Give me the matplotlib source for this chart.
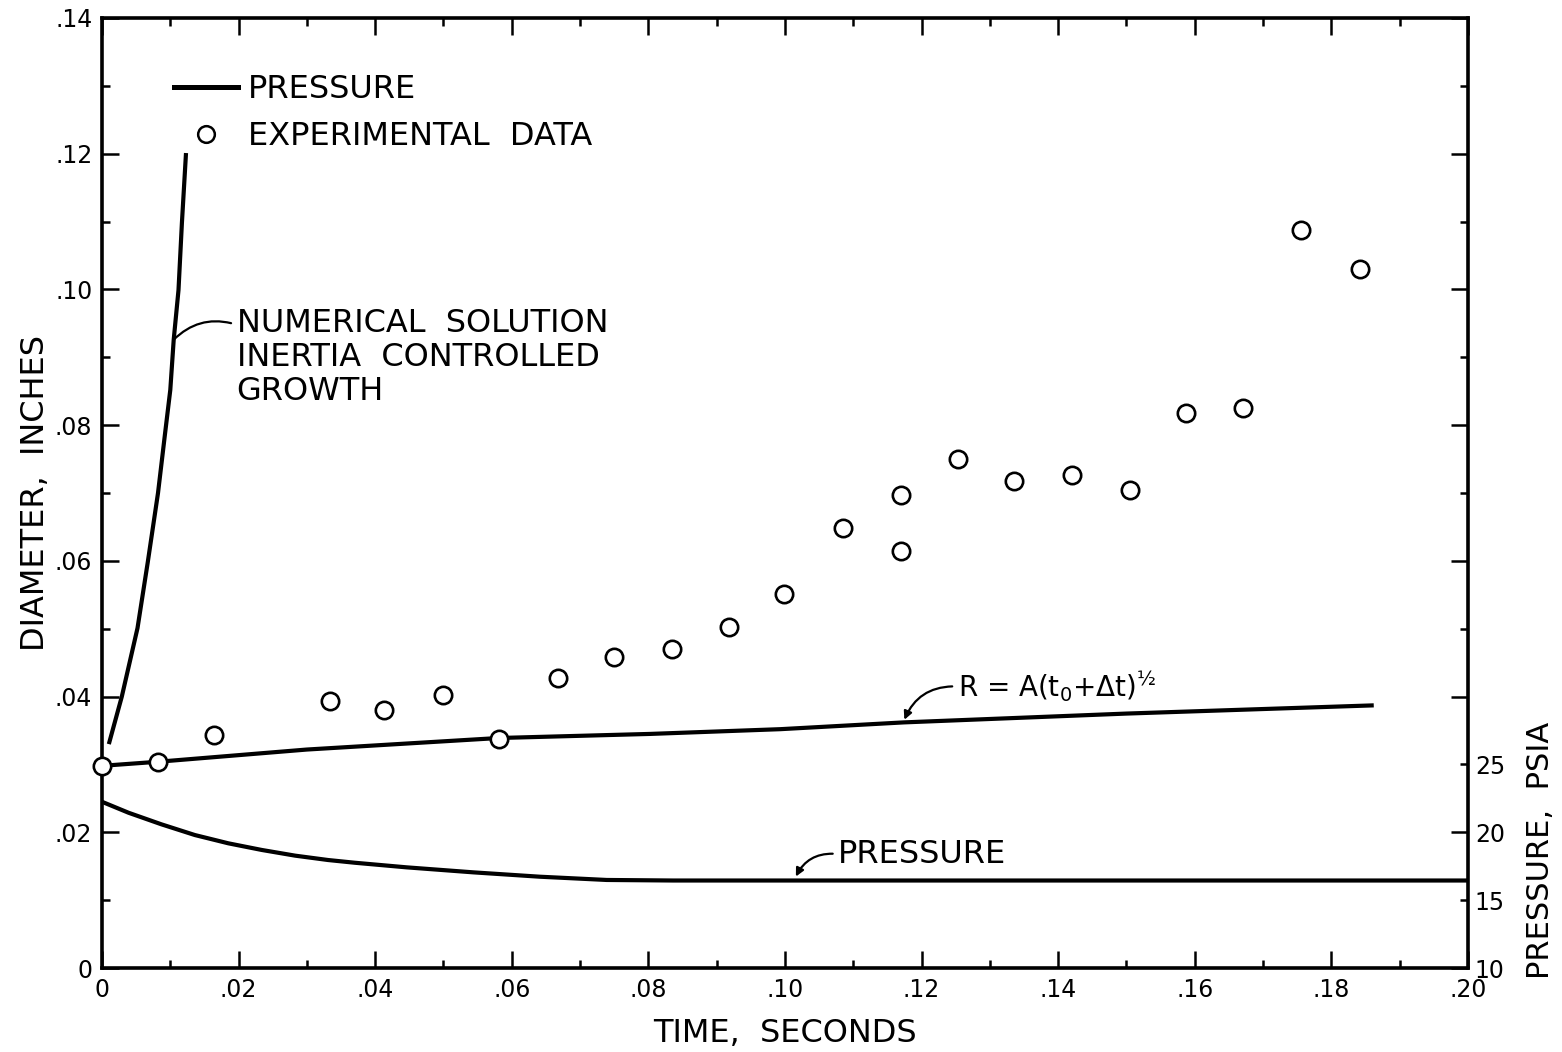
import numpy as np
import matplotlib.pyplot as plt
from matplotlib.lines import Line2D
from matplotlib.ticker import MultipleLocator

plt.rcParams['font.family'] = ['DejaVu Sans']
plt.rcParams['mathtext.default'] = 'regular'

# experimental bubble diameter (in) vs time (s)
t_exp = [0.0, 0.0082, 0.0164, 0.0334, 0.0413, 0.0500, 0.0581, 0.0668, 0.0750,
         0.0834, 0.0918, 0.0999, 0.1085, 0.1170, 0.1170, 0.1254, 0.1336, 0.1420,
         0.1505, 0.1587, 0.1671, 0.1756, 0.1842]
d_exp = [0.0298, 0.0304, 0.0343, 0.0394, 0.0380, 0.0403, 0.0338, 0.0428, 0.0459,
         0.0470, 0.0503, 0.0551, 0.0649, 0.0697, 0.0615, 0.0750, 0.0717, 0.0727,
         0.0704, 0.0818, 0.0826, 0.1088, 0.1030]

# numerical solution, inertia controlled growth
t_num = [0.0010, 0.0029, 0.0052, 0.0067, 0.0082, 0.0092, 0.0100, 0.0105,
         0.0112, 0.0117, 0.0123]
d_num = [0.0330, 0.0400, 0.0501, 0.0598, 0.0700, 0.0785, 0.0852, 0.0926,
         0.0999, 0.1098, 0.1201]

# R = A(t0 + dt)^1/2
t_sqrt = [0.0, 0.0082, 0.0300, 0.0581, 0.0802, 0.0993, 0.1174, 0.1500, 0.1859]
d_sqrt = [0.0298, 0.0304, 0.0322, 0.0339, 0.0345, 0.0352, 0.0362, 0.0375, 0.0387]

# pressure, psia
t_p = [0.0, 0.0039, 0.0087, 0.0136, 0.0185, 0.0234, 0.0283, 0.0331, 0.0370,
       0.0446, 0.0544, 0.0641, 0.0739, 0.0836, 0.200]
p_p = [22.25, 21.44, 20.59, 19.80, 19.19, 18.70, 18.28, 17.96, 17.76,
       17.42, 17.05, 16.73, 16.49, 16.45, 16.45]

x_labels = ['0', '.02', '.04', '.06', '.08', '.10', '.12', '.14', '.16', '.18', '.20']
y_labels = ['0', '.02', '.04', '.06', '.08', '.10', '.12', '.14']
p_ticks = [10, 15, 20, 25]

fig = plt.figure(figsize=(15.62, 10.52), dpi=100)
ax = fig.add_axes([0.0653, 0.0798, 0.8745, 0.9031])
ax.set_xlim(0, 0.2)
ax.set_ylim(0, 0.14)

lw = 3.0
ax.plot(t_num, d_num, color='black', lw=lw, solid_capstyle='butt',
        solid_joinstyle='round', zorder=3)
ax.plot(t_sqrt, d_sqrt, color='black', lw=lw, zorder=3)
ax.plot(t_exp, d_exp, 'o', ms=12.5, mfc='white', mec='black', mew=1.9,
        zorder=5, clip_on=False)

ax2 = ax.twinx()
ax2.set_ylim(10, 80)
ax2.plot(t_p, p_p, color='black', lw=lw, solid_joinstyle='round', zorder=3)
ax2.set_yticks(p_ticks)
ax2.set_yticklabels([str(p) for p in p_ticks])
ax2.tick_params(axis='y', length=0, pad=5, labelsize=17)
for s in ax2.spines.values():
    s.set_visible(False)

ax.set_xticks(np.arange(0, 0.201, 0.02))
ax.set_xticklabels(x_labels)
ax.set_yticks(np.arange(0, 0.141, 0.02))
ax.set_yticklabels(y_labels)
ax.xaxis.set_minor_locator(MultipleLocator(0.01))
ax.yaxis.set_minor_locator(MultipleLocator(0.01))
ax.tick_params(which='both', direction='in', top=True, right=True,
               labelsize=17, width=1.8)
ax.tick_params(which='major', length=12)
ax.tick_params(which='minor', length=6)
ax.tick_params(axis='x', pad=7)
ax.tick_params(axis='y', pad=7)
for s in ax.spines.values():
    s.set_linewidth(2.6)

fs = 23
ax.set_xlabel('TIME,  SECONDS', fontsize=fs, labelpad=12)
ax.set_ylabel('DIAMETER,  INCHES', fontsize=fs, labelpad=3)
ax.text(1.053, 0.124, 'PRESSURE,  PSIA', transform=ax.transAxes, rotation=90,
        ha='center', va='center', fontsize=22)

handles = [Line2D([], [], color='black', lw=3.6),
           Line2D([], [], ls='none', marker='o', ms=12, mfc='white',
                  mec='black', mew=1.8)]
ax.legend(handles, ['PRESSURE', 'EXPERIMENTAL  DATA'], loc='upper left',
          bbox_to_anchor=(0.032, 0.971), frameon=False, fontsize=fs,
          handlelength=2.0, handletextpad=0.3, labelspacing=0.5)

ax.annotate('NUMERICAL  SOLUTION\nINERTIA  CONTROLLED\nGROWTH',
            xy=(0.0105, 0.0926), xytext=(0.0197, 0.0900), fontsize=fs,
            ha='left', va='center', linespacing=1.12,
            arrowprops=dict(arrowstyle='-', color='black', lw=1.6,
                            relpos=(0, 0.83), shrinkA=2, shrinkB=0,
                            connectionstyle='arc3,rad=0.3'))
ax.annotate('R = A(t$_0$+Δt)$^{½}$', xy=(0.1174, 0.0364),
            xytext=(0.1253, 0.0415), fontsize=20, ha='left', va='center',
            arrowprops=dict(arrowstyle='-|>', color='black', lw=1.6,
                            mutation_scale=12, relpos=(0, 0.5), shrinkA=2,
                            shrinkB=1, connectionstyle='arc3,rad=0.35'))
ax.annotate('PRESSURE', xy=(0.1015, 0.0133), xytext=(0.1078, 0.0168),
            fontsize=fs, ha='left', va='center',
            arrowprops=dict(arrowstyle='-|>', color='black', lw=1.6,
                            mutation_scale=12, relpos=(0, 0.5), shrinkA=2,
                            shrinkB=1, connectionstyle='arc3,rad=0.35'))

fig.savefig('out.png', dpi=100)
